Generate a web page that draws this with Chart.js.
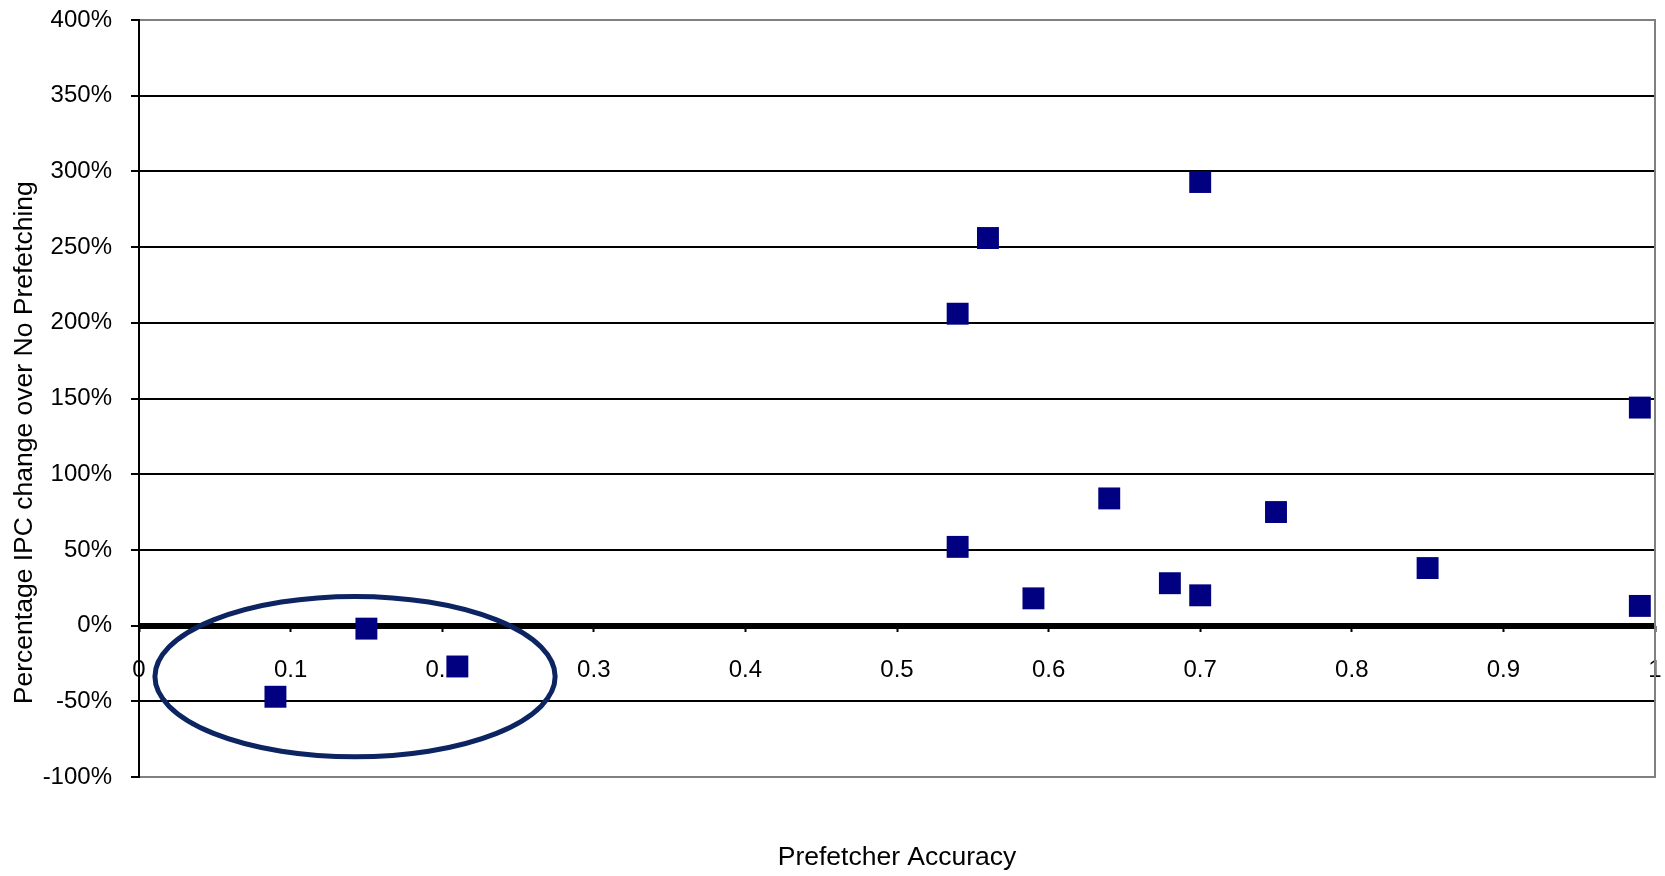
<!DOCTYPE html>
<html>
<head>
<meta charset="utf-8">
<script src="https://cdn.jsdelivr.net/npm/chart.js@4/dist/chart.umd.min.js"></script>
<style>
  html, body { margin: 0; padding: 0; background: #fff; }
  canvas { display: block; }
</style>
</head>
<body>
<canvas id="chart" width="1665" height="876"></canvas>
<script>
// Prefetcher accuracy vs IPC change (one point per benchmark)
const accuracy = [0.09, 0.15, 0.21, 0.54, 0.56, 0.70, 0.54, 0.59, 0.64, 0.68, 0.70, 0.75, 0.85, 0.99, 0.99];
const ipcChange = [-47, -2, -27, 206, 256, 293, 52, 18, 84, 28, 20, 75, 38, 144, 13];

const xTickLabels = ['0', '0.1', '0.2', '0.3', '0.4', '0.5', '0.6', '0.7', '0.8', '0.9', '1'];
const yTickLabels = ['-100%', '-50%', '0%', '50%', '100%', '150%', '200%', '250%', '300%', '350%', '400%'];

// circled low-accuracy group (data units)
const circleCenter = [0.1425, -33.7];
const circleRadius = [0.132, 53];

const FONT = '"Liberation Sans", Arial, sans-serif';

// draws the ellipse round the low accuracy points
const ellipsePlugin = {
  id: 'ellipse',
  afterDraw(chart) {
    const { ctx, scales: { x, y } } = chart;
    const cx = x.getPixelForValue(circleCenter[0]);
    const cy = y.getPixelForValue(circleCenter[1]);
    const rx = x.getPixelForValue(circleCenter[0] + circleRadius[0]) - cx;
    const ry = cy - y.getPixelForValue(circleCenter[1] + circleRadius[1]);
    ctx.save();
    ctx.beginPath();
    ctx.ellipse(cx, cy, rx, ry, 0, 0, Math.PI * 2);
    ctx.strokeStyle = '#0c2461';
    ctx.lineWidth = 5;
    ctx.stroke();
    ctx.restore();
  }
};

new Chart(document.getElementById('chart'), {
  type: 'scatter',
  data: {
    datasets: [{
      data: accuracy.map((a, i) => ({ x: a, y: ipcChange[i] })),
      pointStyle: 'rect',
      pointRadius: 15.5,
      pointHoverRadius: 15.5,
      backgroundColor: '#000080',
      borderWidth: 0
    }]
  },
  options: {
    responsive: false,
    animation: false,
    events: [],
    layout: { autoPadding: false, padding: { top: 20, left: 0, right: 0, bottom: 0 } },
    plugins: { legend: { display: false }, tooltip: { enabled: false } },
    scales: {
      x: {
        type: 'linear',
        position: { y: 0 },
        min: 0,
        max: 1,
        // labels sit on the 0% line, so this axis takes no layout room
        afterFit: s => { s.height = 0; s.paddingLeft = 0; s.paddingRight = 0; },
        ticks: {
          stepSize: 0.1,
          color: '#000',
          font: { family: FONT, size: 24 },
          padding: 24,
          maxRotation: 0,
          callback: (v, i) => xTickLabels[i]
        },
        grid: { drawOnChartArea: false, drawTicks: true, tickLength: 6, color: '#000', tickWidth: 2 },
        border: { display: false }
      },
      x2: {
        type: 'linear',
        position: 'bottom',
        min: 0,
        max: 1,
        afterFit: s => { s.height = 99; s.paddingLeft = 0; s.paddingRight = 0; },
        ticks: { display: false },
        grid: { display: false },
        border: { display: false },
        title: {
          display: true,
          text: 'Prefetcher Accuracy',
          color: '#000',
          font: { family: FONT, size: 26.5 },
          padding: { top: 0, bottom: 2 }
        }
      },
      y: {
        type: 'linear',
        position: 'left',
        min: -100,
        max: 400,
        afterFit: s => { s.width = 139; s.paddingTop = 0; s.paddingBottom = 0; },
        ticks: {
          stepSize: 50,
          color: '#000',
          font: { family: FONT, size: 24 },
          padding: 19,
          callback: (v, i) => yTickLabels[i]
        },
        grid: {
          color: ctx => (ctx.tick && (ctx.tick.value === 400 || ctx.tick.value === -100)) ? '#808080' : '#000',
          lineWidth: ctx => (ctx.tick && ctx.tick.value === 0) ? 6 : 2,
          tickColor: '#000',
          tickWidth: 2,
          tickLength: 8
        },
        border: { color: '#000', width: 2 },
        title: {
          display: true,
          text: 'Percentage IPC change over No Prefetching            ',
          color: '#000',
          font: { family: FONT, size: 26.5 },
          padding: { top: 9, bottom: 0 }
        }
      },
      y2: {
        type: 'linear',
        position: 'right',
        min: -100,
        max: 400,
        afterFit: s => { s.width = 10; s.paddingTop = 0; s.paddingBottom = 0; },
        ticks: { display: false },
        grid: { display: false },
        border: { color: '#808080', width: 2 }
      }
    }
  },
  plugins: [ellipsePlugin]
});
</script>
</body>
</html>
